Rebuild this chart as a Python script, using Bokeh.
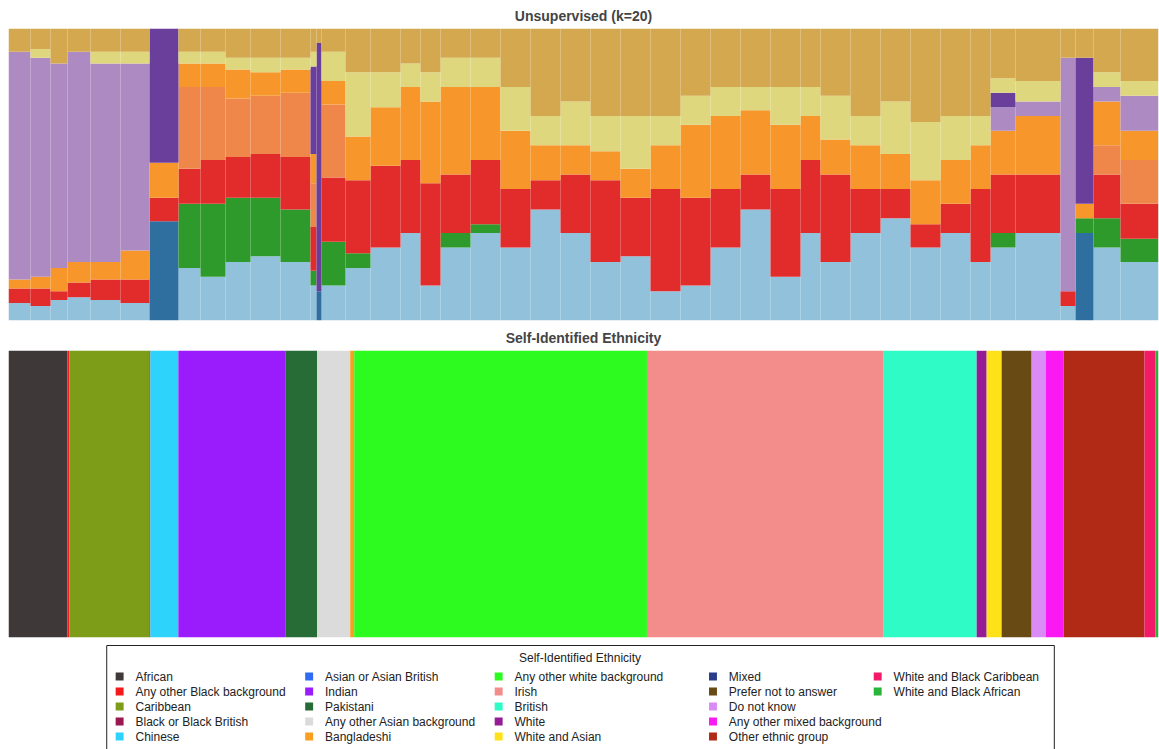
from bokeh.plotting import figure
from bokeh.layouts import column
from bokeh.models import Range1d
from bokeh.core.properties import value
from bokeh.embed import file_html
from bokeh.resources import INLINE

# ---------------- top panel data (block edges in individual index units) ----------------
edges = [0,22,42,59,82,112,141,170,192,217,242,272,302,308,313,337,362,392,412,432,462,492,522,552,
         582,612,642,672,702,732,762,792,812,842,872,902,932,962,982,1007,1052,1067,1085,1112,1150]
comp_colors = ["#92c1db","#2f6f9f","#2e9a2c","#e22b2b","#f0874a","#f7962a","#ad8bc2","#6a3f9b","#dfd77e","#d3a84f"]
lb = [.06,.05,.07,.08,.07,.06,0,.18,.15,.20,.22,.20,.12,0,.12,.18,.25,.30,.12,.25,.30,.25,.38,.30,.20,.22,.10,.12,.25,.38,.15,.30,.20,.30,.35,.25,.30,.20,.25,.30,.05,0,.25,.20]
sb = [0,0,0,0,0,0,.34,0,0,0,0,0,0,.10,0,0,0,0,0,0,0,0,0,0,0,0,0,0,0,0,0,0,0,0,0,0,0,0,0,0,0,.30,0,0]
gr = [0,0,0,0,0,0,0,.22,.25,.22,.20,.18,.05,0,.15,.05,0,0,0,.05,.03,0,0,0,0,0,0,0,0,0,0,0,0,0,0,0,0,0,.05,0,0,.05,.10,.08]
rd = [.05,.06,.03,.05,.07,.08,.08,.12,.15,.14,.15,.18,.15,0,.22,.25,.28,.25,.35,.20,.22,.20,.10,.20,.28,.20,.35,.30,.20,.12,.30,.25,.30,.15,.10,.08,.10,.25,.20,.20,.05,0,.15,.12]
sa = [0,0,0,0,0,0,0,.28,.25,.20,.20,.22,.15,0,.25,0,0,0,0,0,0,0,0,0,0,0,0,0,0,0,0,0,0,0,0,0,0,0,0,0,0,0,.10,.15]
orr = [.03,.04,.08,.07,.06,.10,.12,.08,.08,.10,.08,.08,.10,0,.08,.15,.20,.25,.28,.30,.25,.20,.12,.10,.10,.10,.15,.25,.25,.22,.22,.15,.12,.15,.12,.15,.15,.15,.15,.20,0,.05,.15,.10]
li = [.78,.75,.70,.72,.68,.64,0,0,0,0,0,0,0,0,0,0,0,0,0,0,0,0,0,0,0,0,0,0,0,0,0,0,0,0,0,0,0,0,.08,.05,.80,0,.05,.12]
pu = [0,0,0,0,0,0,.46,0,0,0,0,0,.30,.85,0,0,0,0,0,0,0,0,0,0,0,0,0,0,0,0,0,0,0,0,0,0,0,0,.05,0,0,.50,0,0]
kh = [0,.03,0,0,.04,.04,0,.04,.04,.04,.05,.04,.05,0,.10,.22,.12,.08,.10,.10,.10,.15,.10,.15,.12,.18,.10,.10,.10,.08,.13,.10,.15,.10,.18,.20,.15,.10,.05,.07,0,0,.05,.05]
ta = [.08,.07,.12,.08,.08,.08,0,.08,.08,.10,.10,.10,.08,.05,.08,.15,.15,.12,.15,.10,.10,.20,.30,.25,.30,.30,.30,.23,.20,.20,.20,.20,.23,.30,.25,.32,.30,.30,.17,.18,.10,.10,.15,.18]
comps = [lb, sb, gr, rd, sa, orr, li, pu, kh, ta]

# ---------------- bottom panel data ----------------
eth_names = ["African","Any other Black background","Caribbean","Black or Black British","Chinese",
             "Asian or Asian British","Indian","Pakistani","Any other Asian background","Bangladeshi",
             "Any other white background","Irish","British","White","White and Asian","Mixed",
             "Prefer not to answer","Do not know","Any other mixed background","Other ethnic group",
             "White and Black Caribbean","White and Black African"]
eth_colors = ["#3e3838","#f21a1a","#7d9d18","#9b1750","#2ed3fb","#2f6bf5","#9a1bfb","#276c36",
              "#dcdbdc","#f99f1d","#2dfb1f","#f38d8c","#2ffbc7","#961c96","#fde21a","#283c8a",
              "#684a14","#d98bf6","#fb19f3","#b12a15","#f41a6a","#2ab43a"]
eth_counts = [59,2,80,1,28,0,107,32,33,4,293,237,93,10,15,0,30,14,18,81,11,3]

legend_order = eth_names

W = 1159
FONT = "Liberation Sans"

def base(h, title):
    p = figure(width=W, height=h, output_backend="svg", toolbar_location=None,
               x_range=Range1d(0, 1150), y_range=Range1d(0, 1), title=title,
               min_border_left=8, min_border_right=1, min_border_top=0, min_border_bottom=0)
    p.axis.visible = False
    p.grid.visible = False
    p.outline_line_color = None
    p.title.align = "center"
    p.title.text_font = FONT
    p.title.text_font_size = "14px"
    p.title.text_font_style = "bold"
    return p

# top
p1 = base(322, "Unsupervised (k=20)")
p1.min_border_bottom = 2
left = edges[:-1]; right = edges[1:]
bottom = [0.0]*len(left)
totals = [sum(c) for c in zip(*comps)]
for vals, col in zip(comps, comp_colors):
    top = [b + v / t for b, v, t in zip(bottom, vals, totals)]
    p1.quad(left=left, right=right, bottom=bottom, top=top, fill_color=col, line_color=None)
    bottom = top

# bottom
p2 = base(318, "Self-Identified Ethnicity")
p2.min_border_bottom = 3
tot = sum(eth_counts)
x0 = 0.0
L, R = [], []
for n in eth_counts:
    L.append(x0 * 1150 / tot); x0 += n; R.append(x0 * 1150 / tot)
p2.quad(left=L, right=R, bottom=0, top=1, fill_color=eth_colors, line_color=None)

# legend
p3 = figure(width=W, height=109, output_backend="svg", toolbar_location=None,
            x_range=Range1d(0, W), y_range=Range1d(109, 0),
            min_border_left=0, min_border_right=0, min_border_top=0, min_border_bottom=0)
p3.axis.visible = False; p3.grid.visible = False; p3.outline_line_color = None
p3.quad(left=[99], right=[1054], top=[5], bottom=[140], fill_color=None,
        line_color="#222222", line_width=1)
p3.text(x=[576], y=[17], text=["Self-Identified Ethnicity"], text_font=value(FONT),
        text_font_size="12px", text_align="center", text_baseline="middle", text_color="#222222")
colx = [112, 303, 494, 710, 876]
sx, sy, tx, ty, sc = [], [], [], [], []
for i, name in enumerate(legend_order):
    ci, ri = divmod(i, 5)
    sx.append(colx[ci]); sy.append(36 + ri * 15)
    tx.append(colx[ci] + 16); ty.append(36 + ri * 15)
    sc.append(eth_colors[eth_names.index(name)])
p3.rect(x=sx, y=sy, width=8, height=8, fill_color=sc, line_color=None)
p3.text(x=tx, y=ty, text=legend_order, text_font=value(FONT), text_font_size="12px",
        text_baseline="middle", text_color="#222222")

layout = column(p1, p2, p3, spacing=0)
open("out.html", "w").write(file_html(layout, INLINE))
